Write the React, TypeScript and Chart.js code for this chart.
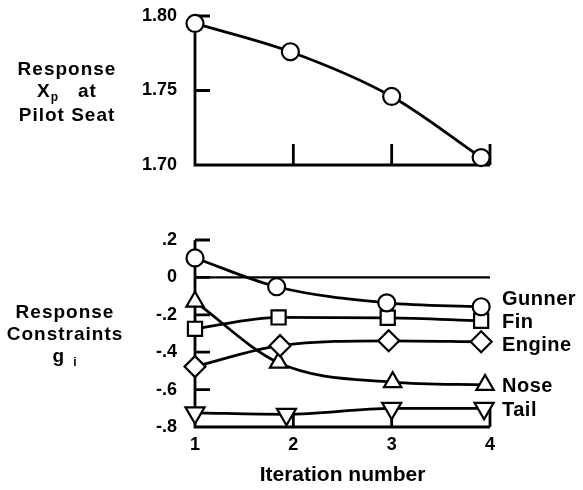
import React, { useEffect, useRef } from 'react';
import { Chart, registerables } from 'chart.js';
Chart.register(...registerables);

// ---- Data ----
const xTicks = [1, 2, 3, 4];

const topX = [1, 1.97, 3.0, 3.91];
const topY = [1.795, 1.776, 1.746, 1.705];
const topYTicks = [1.7, 1.75, 1.8];

const bottomYTicks = [0.2, 0, -0.2, -0.4, -0.6, -0.8];
const seriesNames = ['Gunner', 'Fin', 'Engine', 'Nose', 'Tail'];
const gunnerX = [1, 1.83, 2.95, 3.91];
const gunnerY = [0.104, -0.05, -0.136, -0.157];
const finX = [1, 1.85, 2.96, 3.91];
const finY = [-0.275, -0.214, -0.216, -0.232];
const engineX = [1, 1.865, 2.97, 3.91];
const engineY = [-0.477, -0.365, -0.339, -0.344];
const noseX = [1, 1.85, 3.01, 3.95];
const noseY = [-0.13, -0.456, -0.56, -0.575];
const tailX = [1, 1.93, 3.0, 3.94];
const tailY = [-0.724, -0.732, -0.7, -0.7];

const FONT = '"Liberation Sans", Arial, sans-serif';
const tickFont = { family: FONT, size: 18, weight: 'bold' as const };

const pts = (xs: number[], ys: number[]) => xs.map((x, i) => ({ x, y: ys[i] }));

const fmtBottom = (v: number) => {
  if (Math.abs(v) < 1e-9) return '0';
  const s = '.' + Math.round(Math.abs(v) * 10);
  return v < 0 ? '-' + s : s;
};

const axesPlugin = (opts: { yTicks: number[]; xTickLen: number; zeroLine: boolean }) => ({
  id: 'customAxes',
  beforeDatasetsDraw(chart: any) {
    const { ctx, chartArea, scales } = chart;
    const { left, right, top, bottom } = chartArea;
    const x = scales.x, y = scales.y;
    ctx.save();
    ctx.strokeStyle = '#000';
    ctx.lineWidth = 2.8;
    ctx.beginPath();
    ctx.moveTo(left, top);
    ctx.lineTo(left, bottom);
    ctx.lineTo(right, bottom);
    for (const v of opts.yTicks) {
      if (v === y.min) continue;
      const py = y.getPixelForValue(v);
      ctx.moveTo(left, py);
      ctx.lineTo(left + 15, py);
    }
    for (const v of xTicks) {
      if (v === x.min) continue;
      const px = x.getPixelForValue(v);
      ctx.moveTo(px, bottom);
      ctx.lineTo(px, bottom - opts.xTickLen);
    }
    ctx.stroke();
    if (opts.zeroLine) {
      ctx.lineWidth = 2.2;
      ctx.beginPath();
      const py0 = y.getPixelForValue(0);
      ctx.moveTo(left, py0);
      ctx.lineTo(right, py0);
      ctx.stroke();
    }
    ctx.restore();
  },
});

const labelPlugin = {
  id: 'seriesLabels',
  afterDatasetsDraw(chart: any) {
    const { ctx, chartArea, scales } = chart;
    const offsets: Record<string, number> = { Gunner: -7, Fin: 2, Engine: 4, Nose: 2, Tail: 2 };
    ctx.save();
    ctx.fillStyle = '#000';
    ctx.font = `bold 20px ${FONT}`;
    try { (ctx as any).letterSpacing = '0.5px'; } catch (e) { /* ignore */ }
    ctx.textAlign = 'left';
    ctx.textBaseline = 'middle';
    chart.data.datasets.forEach((ds: any) => {
      const last = ds.data[ds.data.length - 1];
      const py = scales.y.getPixelForValue(last.y) + (offsets[ds.label] || 0);
      ctx.fillText(ds.label, chartArea.right + 12, py);
    });
    ctx.restore();
  },
};

const lineDs = (label: string, data: any[], style: string, radius: number, rotation = 0) => ({
  label,
  data,
  borderColor: '#000',
  backgroundColor: '#fff',
  borderWidth: 2.8,
  pointStyle: style,
  pointRadius: radius,
  pointRotation: rotation,
  pointBorderWidth: 2.2,
  pointBackgroundColor: '#fff',
  pointBorderColor: '#000',
  cubicInterpolationMode: 'monotone' as const,
  clip: false as const,
  fill: false,
});

const fitY = (s: any) => {
  s.width = 195;
  s.paddingTop = 0;
  s.paddingBottom = 0;
};

export default function App() {
  const topRef = useRef<HTMLCanvasElement>(null);
  const botRef = useRef<HTMLCanvasElement>(null);

  useEffect(() => {
    const top = new Chart(topRef.current!, {
      type: 'line',
      data: {
        datasets: [lineDs('Xp', pts(topX, topY), 'circle', 8.5)],
      },
      options: {
        responsive: false,
        animation: false,
        layout: { padding: { left: 0, right: 93, top: 16, bottom: 20 } },
        plugins: { legend: { display: false }, tooltip: { enabled: false } },
        scales: {
          x: { type: 'linear', min: 1, max: 4, display: false },
          y: {
            min: 1.7,
            max: 1.8,
            afterBuildTicks: (s: any) => { s.ticks = topYTicks.map((v) => ({ value: v })); },
            afterFit: fitY,
            ticks: { font: tickFont, color: '#000', padding: 18, callback: (v: any) => Number(v).toFixed(2) },
            grid: { display: false, drawTicks: false },
            border: { display: false },
          },
        },
      },
      plugins: [axesPlugin({ yTicks: topYTicks, xTickLen: 21, zeroLine: false })],
    });

    const bot = new Chart(botRef.current!, {
      type: 'line',
      data: {
        datasets: [
          lineDs(seriesNames[0], pts(gunnerX, gunnerY), 'circle', 8.5),
          lineDs(seriesNames[1], pts(finX, finY), 'rect', 10),
          lineDs(seriesNames[2], pts(engineX, engineY), 'rectRot', 10.5),
          lineDs(seriesNames[3], pts(noseX, noseY), 'triangle', 10),
          lineDs(seriesNames[4], pts(tailX, tailY), 'triangle', 11, 180),
        ],
      },
      options: {
        responsive: false,
        animation: false,
        layout: { padding: { left: 0, right: 93, top: 45, bottom: 0 } },
        plugins: { legend: { display: false }, tooltip: { enabled: false } },
        scales: {
          x: {
            type: 'linear',
            min: 1,
            max: 4,
            afterBuildTicks: (s: any) => { s.ticks = xTicks.map((v) => ({ value: v })); },
            afterFit: (s: any) => { s.height = 63; s.paddingLeft = 0; s.paddingRight = 0; },
            ticks: { font: tickFont, color: '#000', padding: 7, maxRotation: 0, autoSkip: false, callback: (v: any) => String(v) },
            grid: { display: false, drawTicks: false },
            border: { display: false },
            title: {
              display: true,
              text: 'Iteration number',
              color: '#000',
              font: { family: FONT, size: 21, weight: 'bold' },
              padding: { top: 0, bottom: 2 },
            },
          },
          y: {
            min: -0.8,
            max: 0.2,
            afterBuildTicks: (s: any) => { s.ticks = bottomYTicks.map((v) => ({ value: v })); },
            afterFit: fitY,
            ticks: { font: tickFont, color: '#000', padding: 18, callback: (v: any) => fmtBottom(Number(v)) },
            grid: { display: false, drawTicks: false },
            border: { display: false },
          },
        },
      },
      plugins: [axesPlugin({ yTicks: bottomYTicks, xTickLen: 18, zeroLine: true }), labelPlugin],
    });

    return () => { top.destroy(); bot.destroy(); };
  }, []);

  const labelStyle: React.CSSProperties = {
    position: 'absolute', left: 0, width: 134, textAlign: 'center',
    fontSize: 19, lineHeight: '22px', fontFamily: FONT, fontWeight: 'bold', color: '#000',
    letterSpacing: '1px',
  };
  const subStyle: React.CSSProperties = { fontSize: 12, verticalAlign: 'baseline', position: 'relative', top: 4 };

  return (
    <div style={{ position: 'absolute', left: 0, top: 0, width: 583, height: 490, background: '#fff' }}>
      <canvas ref={topRef} width={583} height={185} style={{ position: 'absolute', left: 0, top: 0 }} />
      <canvas ref={botRef} width={583} height={295} style={{ position: 'absolute', left: 0, top: 195 }} />
      <div style={{ ...labelStyle, top: 58 }}>
        <div>Response</div>
        <div>X<span style={subStyle}>p</span>{'\u00a0\u00a0\u00a0'}at</div>
        <div>Pilot Seat</div>
      </div>
      <div style={{ ...labelStyle, top: 301, width: 130 }}>
        <div>Response</div>
        <div>Constraints</div>
        <div>g<span style={{ ...subStyle, marginLeft: 8 }}>i</span></div>
      </div>
    </div>
  );
}
